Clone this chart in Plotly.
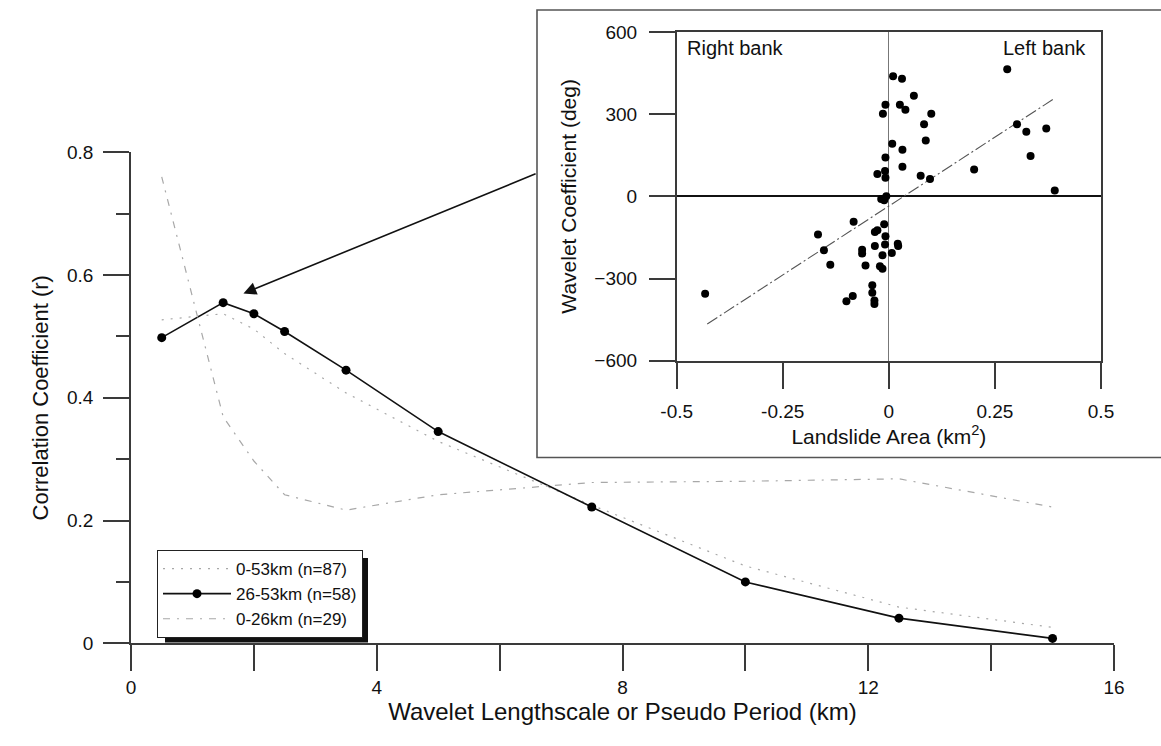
import plotly.graph_objects as go

W, H = 1161, 746
FONT = "Liberation Sans, Arial, sans-serif"

# ---------------- main chart data ----------------
lengthscale_km = [0.5, 1.5, 2, 2.5, 3.5, 5, 7.5, 10, 12.5, 15]
r_0_53 = [0.527, 0.537, 0.512, 0.472, 0.408, 0.329, 0.225, 0.126, 0.059, 0.026]
r_26_53 = [0.498, 0.555, 0.537, 0.508, 0.445, 0.345, 0.222, 0.100, 0.041, 0.008]
r_0_26 = [0.760, 0.369, 0.297, 0.242, 0.217, 0.242, 0.262, 0.264, 0.268, 0.222]

main_x_ticks = [0, 4, 8, 12, 16]
main_y_ticks = [0, 0.2, 0.4, 0.6, 0.8]
main_y_ticktext = ["0", "0.2", "0.4", "0.6", "0.8"]

# ---------------- inset data ----------------
landslide_area = [0.010, 0.031, 0.279, 0.059, -0.008, 0.026, 0.039, -0.014, 0.100, 0.083,
                  0.302, 0.324, 0.371, 0.008, 0.087, 0.032, -0.008, 0.334, 0.032, 0.201,
                  -0.027, -0.009, 0.075, -0.008, 0.097, 0.391, -0.006, -0.018, -0.011, -0.083,
                  -0.011, -0.167, -0.027, -0.033, -0.008, 0.021, 0.022, -0.033, -0.009, -0.153,
                  -0.063, -0.063, 0.007, -0.015, -0.138, -0.055, -0.021, -0.015, -0.039, -0.039,
                  -0.085, -0.100, -0.034, -0.034, -0.433]
wavelet_coef = [438, 429, 464, 367, 334, 334, 316, 302, 302, 263,
                263, 236, 248, 192, 204, 170, 142, 147, 108, 98,
                82, 93, 75, 68, 63, 21, 0, -10, -14, -93,
                -102, -139, -124, -130, -146, -173, -181, -181, -176, -197,
                -195, -209, -207, -215, -250, -252, -255, -264, -325, -352,
                -364, -383, -380, -393, -356]
fit_x = [-0.428, 0.391]
fit_y = [-466, 358]
inset_x_ticks = [-0.5, -0.25, 0, 0.25, 0.5]
inset_x_ticktext = ["-0.5", "-0.25", "0", "0.25", "0.5"]
inset_y_ticks = [-600, -300, 0, 300, 600]

# arrow (data coords of main axes)
arrow_tip = (1.83, 0.570)
arrow_tail = (6.61, 0.766)

fig = go.Figure()

fig.add_trace(go.Scatter(x=lengthscale_km, y=r_0_53, mode="lines", name="0-53km (n=87)",
                         line=dict(color="#a8a8a8", width=1.2, dash="2px,7px"),
                         xaxis="x", yaxis="y"))
fig.add_trace(go.Scatter(x=lengthscale_km, y=r_26_53, mode="lines+markers", name="26-53km (n=58)",
                         line=dict(color="#111111", width=1.6),
                         marker=dict(color="#000000", size=9),
                         xaxis="x", yaxis="y"))
fig.add_trace(go.Scatter(x=lengthscale_km, y=r_0_26, mode="lines", name="0-26km (n=29)",
                         line=dict(color="#a8a8a8", width=1.2, dash="7px,7px,2px,7px"),
                         xaxis="x", yaxis="y"))

fig.add_trace(go.Scatter(x=fit_x, y=fit_y, mode="lines", showlegend=False,
                         line=dict(color="#555555", width=1.1, dash="12px,3px,2px,3px"),
                         xaxis="x2", yaxis="y2"))
fig.add_trace(go.Scatter(x=landslide_area, y=wavelet_coef, mode="markers", showlegend=False,
                         marker=dict(color="#000000", size=8),
                         xaxis="x2", yaxis="y2"))

# layout geometry (pixels -> paper fractions)
mx0, mx1 = 131 / W, 1114 / W
my0, my1 = (H - 643.3) / H, (H - 152.3) / H
ix0, ix1 = 676.7 / W, 1101 / W
iy0, iy1 = (H - 360.7) / H, (H - 32) / H

axis_common = dict(showline=True, linecolor="#3a3a3a", linewidth=1.6, ticks="outside",
                   ticklen=26, tickwidth=1.6, tickcolor="#3a3a3a", showgrid=False,
                   zeroline=False, automargin=False,
                   tickfont=dict(family=FONT, size=19, color="#111111"))

fig.update_layout(
    width=W, height=H,
    margin=dict(l=0, r=0, t=0, b=0),
    paper_bgcolor="white", plot_bgcolor="rgba(0,0,0,0)",
    font=dict(family=FONT, color="#111111"),
    xaxis=dict(domain=[mx0, mx1], range=[0, 16], anchor="y", tickvals=main_x_ticks,
               minor=dict(dtick=2, ticks="outside", ticklen=26, tickwidth=1.6, tickcolor="#3a3a3a"),
               ticklabelstandoff=0,
               title=dict(text="Wavelet Lengthscale or Pseudo Period (km)",
                          font=dict(family=FONT, size=24), standoff=0),
               **axis_common),
    yaxis=dict(domain=[my0, my1], range=[0, 0.8], anchor="x", tickvals=main_y_ticks,
               ticktext=main_y_ticktext, ticklabelstandoff=6,
               minor=dict(dtick=0.1, ticks="outside", ticklen=13, tickwidth=1.6, tickcolor="#3a3a3a"),
               title=dict(text="Correlation Coefficient (r)",
                          font=dict(family=FONT, size=22), standoff=12),
               **axis_common),
    xaxis2=dict(domain=[ix0, ix1], range=[-0.5, 0.5], anchor="y2", tickvals=inset_x_ticks,
                ticktext=inset_x_ticktext, mirror=True, ticklabelstandoff=7,
                title=dict(text="Landslide Area (km<sup>2</sup>)",
                           font=dict(family=FONT, size=21), standoff=2),
                **{**axis_common, "zeroline": True, "zerolinecolor": "#777777", "zerolinewidth": 1,
                   "tickfont": dict(family=FONT, size=19, color="#111111")}),
    yaxis2=dict(domain=[iy0, iy1], range=[-600, 600], anchor="x2", tickvals=inset_y_ticks,
                mirror=True, ticklabelstandoff=8,
                title=dict(text="Wavelet Coefficient (deg)",
                           font=dict(family=FONT, size=21), standoff=12),
                **{**axis_common, "zeroline": True, "zerolinecolor": "#111111", "zerolinewidth": 1.8,
                   "tickfont": dict(family=FONT, size=19, color="#111111")}),
    legend=dict(x=157 / W, y=(H - 550) / H, xanchor="left", yanchor="top",
                bgcolor="white", bordercolor="#222222", borderwidth=1,
                font=dict(family=FONT, size=17, color="#111111"),
                tracegroupgap=0, itemwidth=68),
    showlegend=True,
)

# inset box and legend shadow
fig.add_shape(type="rect", xref="paper", yref="paper",
              x0=537 / W, x1=1.02, y0=(H - 457.5) / H, y1=(H - 10) / H,
              line=dict(color="#555555", width=1.6), fillcolor="white", layer="below")
fig.add_shape(type="rect", xref="paper", yref="paper",
              x0=165 / W, x1=368 / W, y0=(H - 642.5) / H, y1=(H - 558) / H,
              line=dict(width=0), fillcolor="#111111", layer="above")

fig.add_annotation(x=arrow_tip[0], y=arrow_tip[1], ax=arrow_tail[0], ay=arrow_tail[1],
                   xref="x", yref="y", axref="x", ayref="y", text="", showarrow=True,
                   arrowhead=2, arrowsize=1.6, arrowwidth=1.6, arrowcolor="#111111", standoff=0)

fig.add_annotation(x=-0.5, y=600, xref="x2", yref="y2", text="Right bank", showarrow=False,
                   xanchor="left", yanchor="top", xshift=8, yshift=-3,
                   font=dict(family=FONT, size=20, color="#111111"))
fig.add_annotation(x=0.5, y=600, xref="x2", yref="y2", text="Left bank", showarrow=False,
                   xanchor="right", yanchor="top", xshift=-13, yshift=-3,
                   font=dict(family=FONT, size=20, color="#111111"))

fig.write_html("out.html")
